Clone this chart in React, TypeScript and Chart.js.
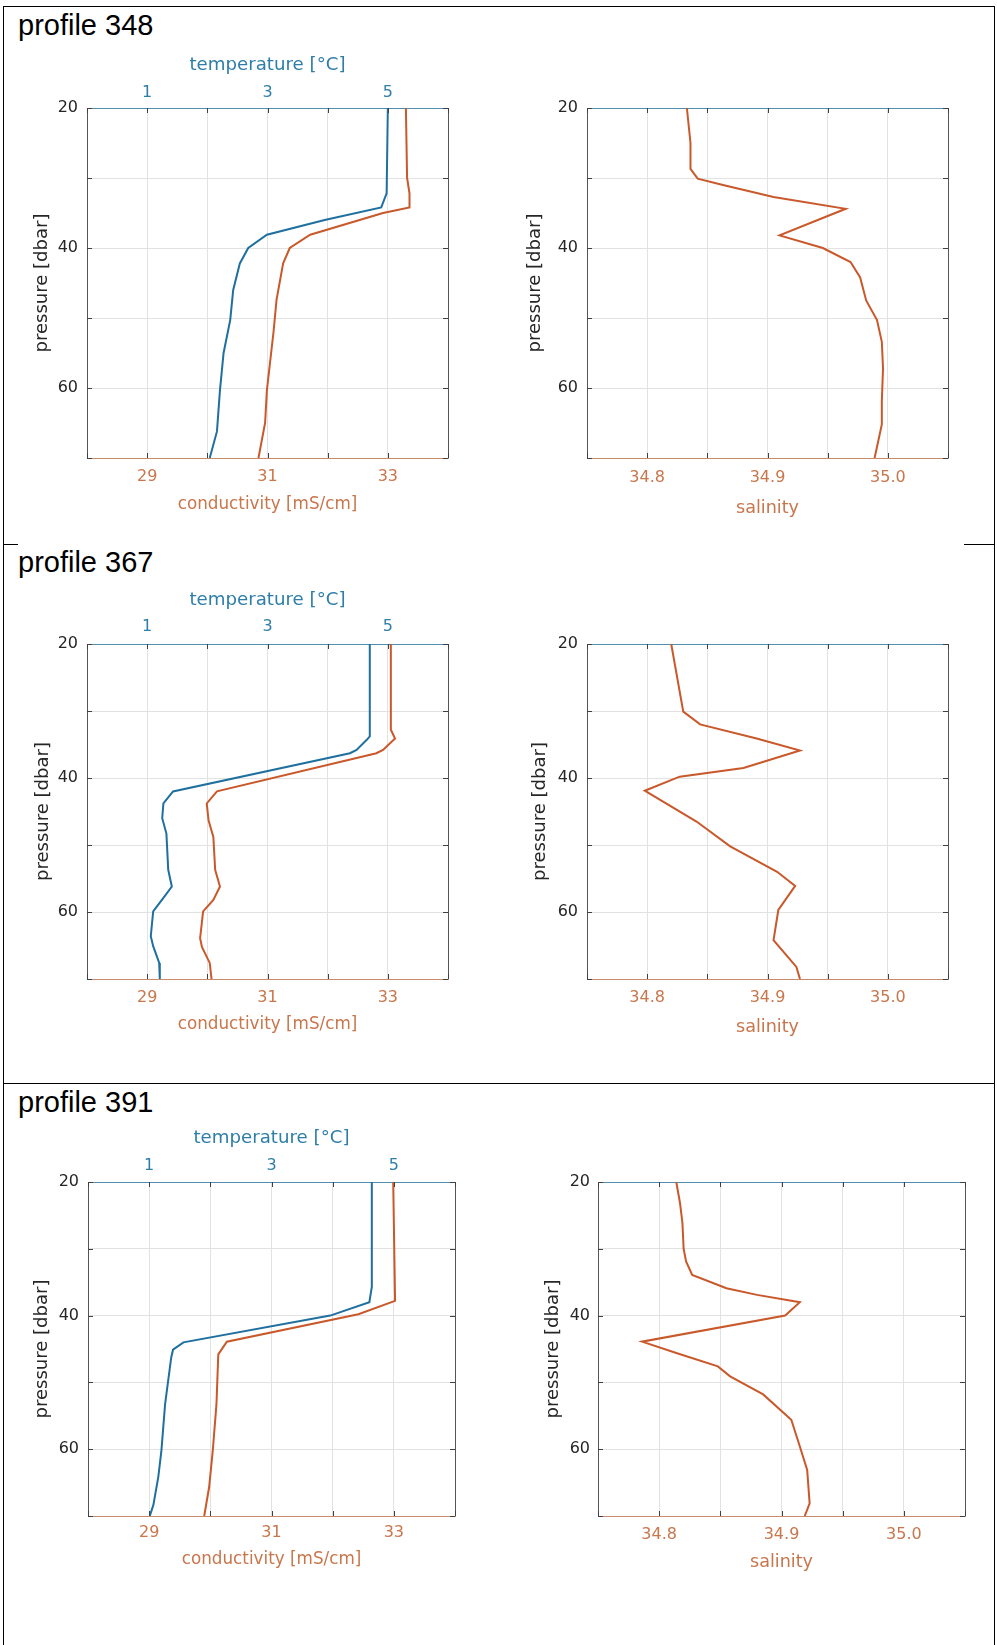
import React, { useEffect, useRef } from 'react';
import { Chart, registerables } from 'chart.js';

Chart.register(...registerables);

// ---------- tick labels shown ----------
const pressureTickLabels = [20, 40, 60];
const conductivityTickLabels = [29, 31, 33];
const temperatureTickLabels = [1, 3, 5];
const salinityTickLabels = [34.8, 34.9, 35.0];

// ---------- profile 348 ----------
const p348TempPressure = [20, 32.2, 34.2, 36, 38.1, 40, 42.2, 46, 50.3, 55, 60.3, 66.2, 70];
const p348Temperature = [5.0, 4.98, 4.89, 3.95, 2.99, 2.68, 2.54, 2.43, 2.38, 2.27, 2.21, 2.16, 2.04];
const p348CondPressure = [20, 30, 32.2, 34.2, 35, 38.1, 40, 42.2, 47.4, 52, 60.3, 65, 70];
const p348Conductivity = [33.3, 33.32, 33.36, 33.36, 32.92, 31.71, 31.37, 31.26, 31.15, 31.1, 30.99, 30.96, 30.85];
const p348SalPressure = [20, 25, 28.7, 30.1, 31, 32.7, 34.4, 38.2, 40, 42, 44.2, 47.5, 50.3, 53.4, 57.2, 61.9, 65.2, 70];
const p348Salinity = [34.833, 34.836, 34.836, 34.842, 34.863, 34.905, 34.965, 34.91, 34.946, 34.969, 34.977, 34.982, 34.991, 34.995, 34.996, 34.995, 34.995, 34.989];

// ---------- profile 367 ----------
const p367TempPressure = [20, 33.8, 34.3, 35.8, 36.3, 42.0, 43.8, 46, 48.3, 53.7, 56.2, 57.9, 59.9, 63.6, 65.1, 67.6, 70];
const p367Temperature = [4.7, 4.7, 4.65, 4.48, 4.37, 1.43, 1.27, 1.25, 1.32, 1.35, 1.41, 1.27, 1.1, 1.06, 1.1, 1.2, 1.21];
const p367CondPressure = [20, 32.8, 34.1, 35.8, 36.3, 42, 43.8, 46.3, 48.8, 53.7, 56.2, 58.2, 59.9, 63.9, 65.2, 67.6, 70];
const p367Conductivity = [33.05, 33.05, 33.12, 32.92, 32.81, 30.16, 29.99, 30.02, 30.1, 30.13, 30.21, 30.1, 29.93, 29.88, 29.91, 30.04, 30.07];
const p367SalPressure = [20, 30.1, 32.0, 34.1, 35.9, 38.5, 39.8, 41.9, 46.5, 50.2, 54.0, 56.1, 59.7, 64.2, 68.2, 70];
const p367Salinity = [34.82, 34.83, 34.844, 34.891, 34.927, 34.88, 34.827, 34.798, 34.841, 34.869, 34.908, 34.923, 34.909, 34.905, 34.924, 34.927];

// ---------- profile 391 ----------
const p391TempPressure = [20, 35.7, 38.0, 40, 44, 45.1, 46.3, 53.3, 60.2, 64.1, 68.3, 70];
const p391Temperature = [4.64, 4.64, 4.6, 3.96, 1.56, 1.39, 1.36, 1.26, 1.2, 1.15, 1.07, 1.01];
const p391CondPressure = [20, 37.8, 39.8, 43.9, 45.8, 53.3, 60.2, 65.7, 70];
const p391Conductivity = [32.99, 33.02, 32.42, 30.27, 30.13, 30.1, 30.04, 29.98, 29.9];
const p391SalPressure = [20, 23.1, 26.1, 30, 31.9, 33.9, 35.9, 36.9, 38.0, 40.0, 43.9, 45.6, 47.6, 49.1, 51.8, 55.6, 59.6, 63.1, 68.1, 70];
const p391Salinity = [34.814, 34.817, 34.819, 34.82, 34.822, 34.827, 34.855, 34.88, 34.915, 34.903, 34.786, 34.814, 34.848, 34.858, 34.885, 34.908, 34.915, 34.921, 34.923, 34.919];

// ---------- styling ----------
const FONT = '"DejaVu Sans", sans-serif';
const BLUE_LINE = '#1f6f9f';
const ORANGE_LINE = '#c9582a';
const BLUE_TEXT = '#2e7ea8';
const ORANGE_TEXT = '#c8764c';
const DARK = '#262626';
const GRID = '#e2e2e2';
const EDGE_DARK = '#555555';
const EDGE_BLUE = '#4f8fae';
const EDGE_ORANGE = '#c98a6a';
const TICK_COLOR = '#404040';

const LW = 64; // left axis box width
const TH = 62; // top axis box height
const BH = 64; // bottom axis box height
const RP = 12; // right padding
const TICK_SIZE = 16;
const LH_TICK = TICK_SIZE * 1.2;
const SIZE_PRESSURE = 18;
const SIZE_TEMP = 18.2;
const SIZE_COND = 16.8;
const SIZE_SAL = 17.6;

type Area = { l: number; t: number; r: number; b: number };
type Offs = { yTitle: number; yTick: number; topTick: number; topTitle: number; botTick: number; botTitle: number };
type Series = { pressure: number[]; values: number[]; axis: string; color: string; label: string };
type Spec = { kind: 'tc' | 's'; area: Area; offs: Offs; series: Series[] };

const shown = (v: number, arr: number[]) => arr.some((a) => Math.abs(a - v) < 1e-6);
const edgeGrid = (min: number, max: number) => (ctx: any) => {
  const v = ctx.tick ? ctx.tick.value : undefined;
  if (v === undefined) return GRID;
  return Math.abs(v - min) < 1e-6 || Math.abs(v - max) < 1e-6 ? 'rgba(0,0,0,0)' : GRID;
};

const innerTicks = {
  id: 'innerTicks',
  afterDatasetsDraw(chart: any) {
    const { ctx, chartArea: a } = chart;
    const L = 5;
    ctx.save();
    ctx.strokeStyle = TICK_COLOR;
    ctx.lineWidth = 1;
    ctx.beginPath();
    const ys = chart.scales.y;
    ys.ticks.forEach((t: any) => {
      const py = Math.round(ys.getPixelForValue(t.value)) + 0.5;
      ctx.moveTo(a.left, py);
      ctx.lineTo(a.left + L, py);
      ctx.moveTo(a.right, py);
      ctx.lineTo(a.right - L, py);
    });
    const xs = chart.scales.x;
    xs.ticks.forEach((t: any) => {
      const px = Math.round(xs.getPixelForValue(t.value)) + 0.5;
      ctx.moveTo(px, a.bottom);
      ctx.lineTo(px, a.bottom - L);
      ctx.moveTo(px, a.top);
      ctx.lineTo(px, a.top + L);
    });
    ctx.stroke();
    ctx.restore();
  },
};

function buildConfig(spec: Spec): any {
  const { offs } = spec;
  const isTC = spec.kind === 'tc';
  const tickFont = { family: FONT, size: TICK_SIZE };
  const botSize = isTC ? SIZE_COND : SIZE_SAL;
  const datasets = spec.series.map((s) => ({
    label: s.label,
    data: s.pressure.map((p, i) => ({ x: s.values[i], y: p })),
    xAxisID: s.axis,
    yAxisID: 'y',
    showLine: true,
    pointRadius: 0,
    borderColor: s.color,
    backgroundColor: s.color,
    borderWidth: 2,
    tension: 0,
    fill: false,
  }));

  const xMin = isTC ? 28 : 34.75;
  const xMax = isTC ? 34 : 35.05;
  const scales: any = {
    y: {
      type: 'linear',
      position: 'left',
      reverse: true,
      min: 20,
      max: 70,
      ticks: {
        stepSize: 10,
        padding: offs.yTick,
        color: DARK,
        font: tickFont,
        callback: (v: number) => (shown(v, pressureTickLabels) ? String(v) : ''),
      },
      grid: { color: edgeGrid(20, 70), drawTicks: false, lineWidth: 1 },
      border: { color: EDGE_DARK, width: 1 },
      title: {
        display: true,
        text: 'pressure [dbar]',
        color: DARK,
        font: { family: FONT, size: SIZE_PRESSURE },
        padding: { top: LW - offs.yTitle - (SIZE_PRESSURE * 1.2) / 2, bottom: 0 },
      },
      afterFit: (s: any) => {
        s.width = LW;
      },
    },
    yR: {
      type: 'linear',
      position: 'right',
      reverse: true,
      min: 20,
      max: 70,
      ticks: { display: false },
      grid: { display: false, drawTicks: false },
      border: { color: EDGE_DARK, width: 1 },
      afterFit: (s: any) => {
        s.width = 0;
      },
    },
    x: {
      type: 'linear',
      position: 'bottom',
      min: xMin,
      max: xMax,
      ticks: {
        stepSize: isTC ? 1 : 0.05,
        padding: offs.botTick - LH_TICK / 2,
        color: ORANGE_TEXT,
        font: tickFont,
        maxRotation: 0,
        autoSkip: false,
        callback: (v: number) =>
          isTC
            ? shown(v, conductivityTickLabels)
              ? String(v)
              : ''
            : shown(v, salinityTickLabels)
            ? v.toFixed(1)
            : '',
      },
      grid: { color: edgeGrid(xMin, xMax), drawTicks: false, lineWidth: 1 },
      border: { color: EDGE_ORANGE, width: 1 },
      title: {
        display: true,
        text: isTC ? 'conductivity [mS/cm]' : 'salinity',
        color: ORANGE_TEXT,
        font: { family: FONT, size: botSize },
        padding: { top: 0, bottom: BH - offs.botTitle - (botSize * 1.2) / 2 },
      },
      afterFit: (s: any) => {
        s.height = BH;
      },
    },
    xT: {
      type: 'linear',
      position: 'top',
      min: 0,
      max: isTC ? 6 : 1,
      ticks: {
        display: isTC,
        stepSize: 1,
        padding: offs.topTick - LH_TICK / 2,
        color: BLUE_TEXT,
        font: tickFont,
        maxRotation: 0,
        autoSkip: false,
        callback: (v: number) => (shown(v, temperatureTickLabels) ? String(v) : ''),
      },
      grid: { color: 'rgba(0,0,0,0)', drawTicks: false },
      border: { color: EDGE_BLUE, width: 1 },
      title: {
        display: isTC,
        text: 'temperature [°C]',
        color: BLUE_TEXT,
        font: { family: FONT, size: SIZE_TEMP },
        padding: { top: TH - offs.topTitle - (SIZE_TEMP * 1.2) / 2, bottom: 0 },
      },
      afterFit: (s: any) => {
        s.height = TH;
      },
    },
  };

  return {
    type: 'scatter',
    data: { datasets },
    options: {
      animation: false,
      responsive: false,
      maintainAspectRatio: false,
      events: [],
      layout: { padding: { left: 0, top: 0, right: RP, bottom: 0 } },
      plugins: { legend: { display: false }, tooltip: { enabled: false }, title: { display: false } },
      scales,
    },
    plugins: [innerTicks],
  };
}

function ProfileChart({ spec }: { spec: Spec }) {
  const ref = useRef<HTMLCanvasElement>(null);
  const { area } = spec;
  const width = LW + (area.r - area.l) + RP;
  const height = TH + (area.b - area.t) + BH;
  useEffect(() => {
    if (!ref.current) return;
    const chart = new Chart(ref.current, buildConfig(spec));
    return () => chart.destroy();
  }, []);
  return (
    <canvas
      ref={ref}
      width={width}
      height={height}
      style={{ position: 'absolute', left: area.l - LW, top: area.t - TH, width, height }}
    />
  );
}

const specs: Spec[] = [
  {
    kind: 'tc',
    area: { l: 87, t: 108, r: 448, b: 458 },
    offs: { yTitle: 45, yTick: 9, topTick: 15, topTitle: 43, botTick: 19, botTitle: 47 },
    series: [
      { pressure: p348TempPressure, values: p348Temperature, axis: 'xT', color: BLUE_LINE, label: 'temperature' },
      { pressure: p348CondPressure, values: p348Conductivity, axis: 'x', color: ORANGE_LINE, label: 'conductivity' },
    ],
  },
  {
    kind: 's',
    area: { l: 587, t: 108, r: 948, b: 458 },
    offs: { yTitle: 52, yTick: 9, topTick: 15, topTitle: 43, botTick: 20, botTitle: 50 },
    series: [{ pressure: p348SalPressure, values: p348Salinity, axis: 'x', color: ORANGE_LINE, label: 'salinity' }],
  },
  {
    kind: 'tc',
    area: { l: 87, t: 644, r: 448, b: 979 },
    offs: { yTitle: 44, yTick: 9, topTick: 17, topTitle: 44, botTick: 19, botTitle: 46 },
    series: [
      { pressure: p367TempPressure, values: p367Temperature, axis: 'xT', color: BLUE_LINE, label: 'temperature' },
      { pressure: p367CondPressure, values: p367Conductivity, axis: 'x', color: ORANGE_LINE, label: 'conductivity' },
    ],
  },
  {
    kind: 's',
    area: { l: 587, t: 644, r: 948, b: 979 },
    offs: { yTitle: 47, yTick: 9, topTick: 15, topTitle: 43, botTick: 19, botTitle: 48 },
    series: [{ pressure: p367SalPressure, values: p367Salinity, axis: 'x', color: ORANGE_LINE, label: 'salinity' }],
  },
  {
    kind: 'tc',
    area: { l: 88, t: 1182, r: 455, b: 1516 },
    offs: { yTitle: 46, yTick: 9, topTick: 16, topTitle: 44, botTick: 17, botTitle: 44 },
    series: [
      { pressure: p391TempPressure, values: p391Temperature, axis: 'xT', color: BLUE_LINE, label: 'temperature' },
      { pressure: p391CondPressure, values: p391Conductivity, axis: 'x', color: ORANGE_LINE, label: 'conductivity' },
    ],
  },
  {
    kind: 's',
    area: { l: 598, t: 1182, r: 965, b: 1516 },
    offs: { yTitle: 45, yTick: 8, topTick: 15, topTitle: 43, botTick: 19, botTitle: 46 },
    series: [{ pressure: p391SalPressure, values: p391Salinity, axis: 'x', color: ORANGE_LINE, label: 'salinity' }],
  },
];

const profileTitles = ['profile 348', 'profile 367', 'profile 391'];
const titleTops = [10.5, 547.5, 1087.5];

export default function App() {
  const line = (style: React.CSSProperties) => (
    <div style={{ position: 'absolute', background: '#000', ...style }} />
  );
  return (
    <div
      style={{
        position: 'absolute',
        left: 0,
        top: 0,
        width: 997,
        height: 1645,
        overflow: 'hidden',
        background: '#fff',
        fontFamily: '"Liberation Sans", Arial, sans-serif',
      }}
    >
      {/* table borders */}
      {line({ left: 3, top: 6, width: 992, height: 1 })}
      {line({ left: 3, top: 6, width: 1, height: 1639 })}
      {line({ left: 994, top: 6, width: 1, height: 1639 })}
      {line({ left: 3, top: 544, width: 15, height: 1 })}
      {line({ left: 964, top: 544, width: 31, height: 1 })}
      {line({ left: 3, top: 1083, width: 992, height: 1 })}

      {profileTitles.map((t, i) => (
        <div
          key={t}
          style={{ position: 'absolute', left: 18, top: titleTops[i], fontSize: 29, lineHeight: 1, color: '#000' }}
        >
          {t}
        </div>
      ))}

      {specs.map((s, i) => (
        <ProfileChart key={i} spec={s} />
      ))}
    </div>
  );
}
